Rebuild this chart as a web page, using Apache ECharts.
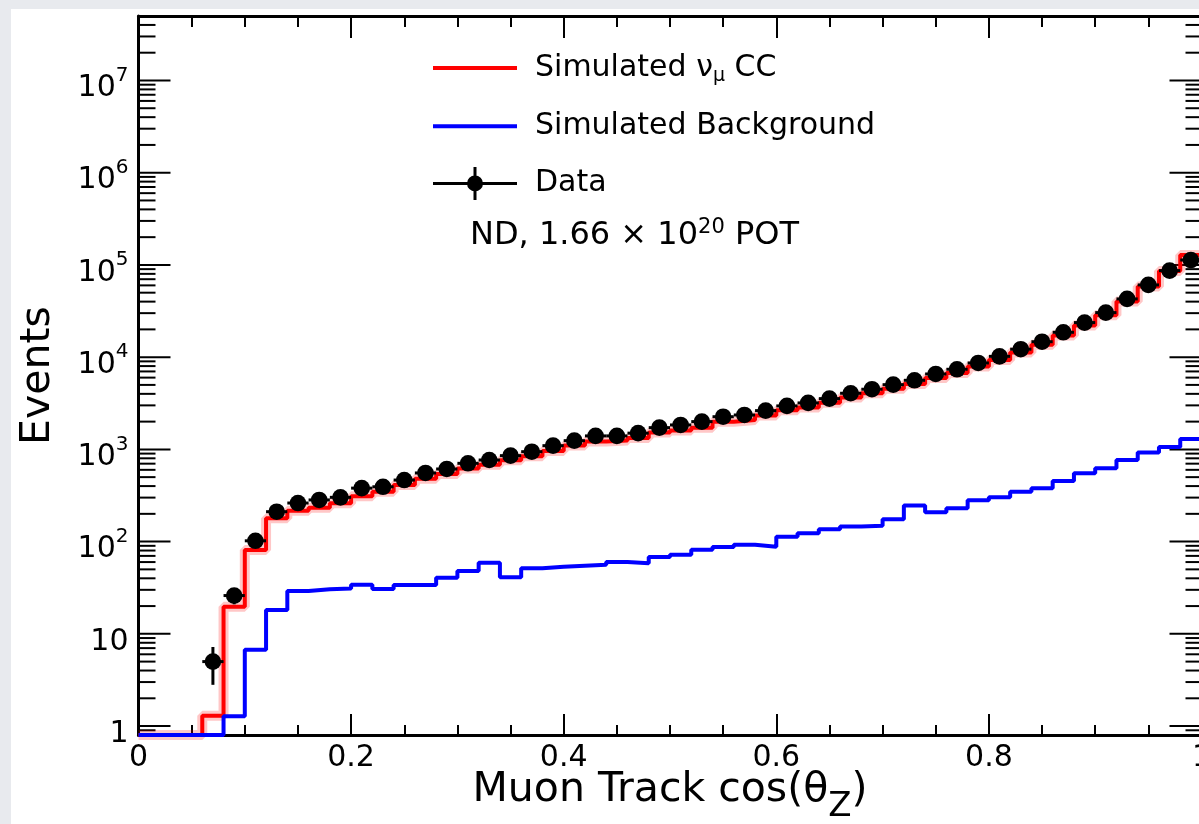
<!DOCTYPE html>
<html>
<head>
<meta charset="utf-8">
<script src="https://cdn.jsdelivr.net/npm/echarts/dist/echarts.min.js"></script>
<style>
  html, body { margin: 0; padding: 0; width: 1199px; height: 824px; background: #e8eaee; overflow: hidden; }
  #chart { position: absolute; left: 11px; top: 9px; width: 1188px; height: 815px; background: #ffffff; }
</style>
</head>
<body>
<div id="chart"></div>
<script>
// ---------------- data ----------------
const binLow = [0,0.02,0.04,0.06,0.08,0.10,0.12,0.14,0.16,0.18,0.20,0.22,0.24,0.26,0.28,0.30,0.32,0.34,0.36,0.38,0.40,0.42,0.44,0.46,0.48,0.50,0.52,0.54,0.56,0.58,0.60,0.62,0.64,0.66,0.68,0.70,0.72,0.74,0.76,0.78,0.80,0.82,0.84,0.86,0.88,0.90,0.92,0.94,0.96,0.98];
const binEnd = 1.0;
const numuCC = [0,0,0,1.29,19.7,81,179,216,233,260,310,348,410,480,540,620,680,760,840,960,1100,1220,1250,1330,1520,1600,1720,1990,2080,2330,2650,2850,3200,3650,4050,4550,5100,5950,6750,7900,9300,11200,13600,17200,22000,28500,40000,58500,86000,128000];
const background = [0,0,0,0,1.28,6.7,18.1,29.1,30.4,31.1,34.1,30.6,33.8,33.8,40.5,48.0,59.0,41.0,51.3,53.5,54.8,56.1,60.1,58.1,68.0,72.1,81.7,87.4,92.6,88.1,113,123,136,146,149,175,246,208,230,280,302,347,378,454,550,624,765,925,1060,1297];
const dataX = [0.07,0.09,0.11,0.13,0.15,0.17,0.19,0.21,0.23,0.25,0.27,0.29,0.31,0.33,0.35,0.37,0.39,0.41,0.43,0.45,0.47,0.49,0.51,0.53,0.55,0.57,0.59,0.61,0.63,0.65,0.67,0.69,0.71,0.73,0.75,0.77,0.79,0.81,0.83,0.85,0.87,0.89,0.91,0.93,0.95,0.97,0.99];
const dataY = [5,26,102,211,262,283,302,380,393,465,555,613,706,767,855,944,1097,1243,1400,1400,1500,1720,1840,2000,2260,2360,2630,2960,3190,3550,4060,4490,5030,5610,6570,7390,8650,10200,12200,14700,18600,23700,30400,42800,60700,86700,113000];
const dataErr = [2.2,5.1,10.1,14.5,16.2,16.8,17.4,19.5,19.8,21.6,23.6,24.8,26.6,27.7,29.2,30.7,33.1,35.3,37.4,37.4,38.7,41.5,42.9,44.7,47.5,48.6,51.3,54.4,56.5,59.6,63.7,67.0,70.9,74.9,81.1,86.0,93.0,101,110,121,136,154,174,207,246,294,336];
const xTickLabels = ['0','0.2','0.4','0.6','0.8','1'];
const yMajorTicks = [1,10,100,1000,10000,100000,1000000,10000000];
const seriesNames = ['Simulated νμ CC','Simulated Background','Data'];

// ---------------- setup ----------------
const FONT = 'DejaVu Sans';
const yMin = 0.8, yMax = 5e7;
const halfBin = 0.01;

function stepData(vals) {
  const pts = binLow.map((x, i) => [x, vals[i] > 0 ? vals[i] : yMin]);
  const last = vals[vals.length - 1];
  pts.push([binEnd, last > 0 ? last : yMin]);
  return pts;
}

// y-axis tick positions (decades + 2..9 sub-ticks), drawn through the axis scale
const yTickData = [];
yMajorTicks.forEach(v => yTickData.push([0, v, 1]));
yTickData.push([0, 0.9, 0]);
for (let k = 0; k <= 7; k++) {
  for (let m = 2; m <= 9; m++) {
    const v = m * Math.pow(10, k);
    if (v < yMax) yTickData.push([0, v, 0]);
  }
}

const chart = echarts.init(document.getElementById('chart'), null, { renderer: 'canvas' });

const lineIcon = 'path://M0,0 L84,0 L84,4 L0,4 Z';
const dataIcon = 'path://M0,15 L84,15 L84,18 L0,18 Z M40.5,0 L43.5,0 L43.5,33 L40.5,33 Z M34,16.5 A8,8 0 1,1 50,16.5 A8,8 0 1,1 34,16.5 Z';

const option = {
  animation: false,
  backgroundColor: '#ffffff',
  grid: { left: 127.5, top: 7, width: 1063, height: 719, containLabel: false, outerBoundsMode: 'none' },
  title: {
    text: 'ND, 1.66 × 10{sup|20} POT',
    left: 459, top: 208, padding: 0,
    textStyle: {
      fontFamily: FONT, fontSize: 32, fontWeight: 'normal', color: '#000', lineHeight: 38,
      rich: { sup: { fontFamily: FONT, fontSize: 21, lineHeight: 14, verticalAlign: 'top', color: '#000' } }
    }
  },
  legend: {
    orient: 'vertical', left: 422, top: 42.5, padding: 0,
    itemWidth: 84, itemHeight: 33, itemGap: 24.2,
    selectedMode: false,
    formatter: function (name) {
      if (name === seriesNames[0]) return 'Simulated ν{sub|μ} CC';
      return name;
    },
    textStyle: {
      fontFamily: FONT, fontSize: 30, color: '#000', lineHeight: 33, padding: [0, 0, 0, 13],
      rich: { sub: { fontFamily: FONT, fontSize: 19, lineHeight: 18, padding: [15, 0, 0, 0], verticalAlign: 'top', color: '#000' } }
    },
    data: [
      { name: seriesNames[0], icon: lineIcon, itemStyle: { color: '#ff0000', borderWidth: 0 } },
      { name: seriesNames[1], icon: lineIcon, itemStyle: { color: '#0000ff', borderWidth: 0 } },
      { name: seriesNames[2], icon: dataIcon, itemStyle: { color: '#000', borderWidth: 0 } }
    ]
  },
  xAxis: [
    {
      type: 'value', min: 0, max: 1, interval: 0.2, position: 'bottom',
      name: '{t|Muon Track cos(θ}{z|Z}{t|)}',
      nameLocation: 'middle', nameGap: 35, nameMoveOverlap: false,
      nameTextStyle: {
        fontFamily: FONT, color: '#000',
        rich: {
          t: { fontFamily: FONT, fontSize: 41, lineHeight: 44, verticalAlign: 'top', color: '#000' },
          z: { fontFamily: FONT, fontSize: 34, lineHeight: 36, padding: [20, 0, 0, 0], verticalAlign: 'top', color: '#000' }
        }
      },
      axisLine: { show: true, onZero: false, lineStyle: { color: '#000', width: 3 } },
      axisTick: { show: true, inside: true, length: 21, lineStyle: { color: '#000', width: 2 } },
      minorTick: { show: true, splitNumber: 4, length: 10, lineStyle: { color: '#000', width: 2 } },
      splitLine: { show: false }, minorSplitLine: { show: false },
      axisLabel: {
        show: true, margin: 8, fontFamily: FONT, fontSize: 30, color: '#000', lineHeight: 30,
        showMinLabel: true, showMaxLabel: true, hideOverlap: false,
        formatter: function (v) { return xTickLabels[Math.round(v / 0.2)]; }
      }
    },
    {
      type: 'value', min: 0, max: 1, interval: 0.2, position: 'top',
      axisLine: { show: true, onZero: false, lineStyle: { color: '#000', width: 3 } },
      axisTick: { show: true, inside: true, length: 22, lineStyle: { color: '#000', width: 2 } },
      minorTick: { show: true, splitNumber: 4, length: 11, lineStyle: { color: '#000', width: 2 } },
      splitLine: { show: false }, axisLabel: { show: false }
    }
  ],
  yAxis: {
    type: 'log', logBase: 10, min: yMin, max: yMax, splitNumber: 8,
    name: 'Events', nameLocation: 'middle', nameRotate: 90, nameGap: 80, nameMoveOverlap: false,
    nameTextStyle: { fontFamily: FONT, fontSize: 41, color: '#000' },
    axisLine: { show: true, onZero: false, lineStyle: { color: '#000', width: 3 } },
    axisTick: { show: false },
    minorTick: { show: false },
    splitLine: { show: false },
    axisLabel: {
      show: true, margin: 10, fontFamily: FONT, fontSize: 30, color: '#000',
      showMinLabel: true, showMaxLabel: true, hideOverlap: false,
      formatter: function (v) {
        const lg = Math.log10(v);
        const n = Math.round(lg);
        if (Math.abs(lg - n) > 1e-6) return '';
        if (n === 0) return '{m|1}';
        if (n === 1) return '{m|10}';
        return '{m|10}{s|' + n + '}';
      },
      rich: {
        m: { fontFamily: FONT, fontSize: 30, lineHeight: 30, padding: [8, 0, 0, 0], verticalAlign: 'top', color: '#000' },
        s: { fontFamily: FONT, fontSize: 20, lineHeight: 24, verticalAlign: 'top', color: '#000' }
      }
    }
  },
  series: [
    {
      name: 'y ticks', type: 'custom', silent: true, z: 1,
      data: yTickData,
      renderItem: function (params, api) {
        const v = api.value(1);
        const major = api.value(2) === 1;
        const pL = api.coord([0, v]);
        const pR = api.coord([1, v]);
        const lenL = major ? 32 : 17;
        const lenR = major ? 32 : 16;
        return {
          type: 'group',
          children: [
            { type: 'line', shape: { x1: pL[0], y1: pL[1], x2: pL[0] + lenL, y2: pL[1] }, style: { stroke: '#000', lineWidth: 2 } },
            { type: 'line', shape: { x1: pR[0] - lenR, y1: pR[1], x2: pR[0], y2: pR[1] }, style: { stroke: '#000', lineWidth: 2 } }
          ]
        };
      }
    },
    {
      name: 'numu band', type: 'line', step: 'end', data: stepData(numuCC),
      symbol: 'none', showSymbol: false, silent: true, z: 2,
      lineStyle: { color: 'rgba(255,0,0,0.22)', width: 10 }
    },
    {
      name: seriesNames[0], type: 'line', step: 'end', data: stepData(numuCC),
      symbol: 'none', showSymbol: false, z: 3,
      itemStyle: { color: '#ff0000' },
      lineStyle: { color: '#ff0000', width: 4 }
    },
    {
      name: seriesNames[1], type: 'line', step: 'end', data: stepData(background),
      symbol: 'none', showSymbol: false, z: 4,
      itemStyle: { color: '#0000ff' },
      lineStyle: { color: '#0000ff', width: 4 }
    },
    {
      name: seriesNames[2], type: 'custom', z: 5,
      itemStyle: { color: '#000' },
      data: dataX.map((x, i) => [x, dataY[i], dataErr[i]]),
      renderItem: function (params, api) {
        const x = api.value(0), y = api.value(1), e = api.value(2);
        const c = api.coord([x, y]);
        const xl = api.coord([x - halfBin, y])[0];
        const xr = api.coord([x + halfBin, y])[0];
        const yt = api.coord([x, y + e])[1];
        const yb = api.coord([x, y - e])[1];
        return {
          type: 'group',
          children: [
            { type: 'line', shape: { x1: xl, y1: c[1], x2: xr, y2: c[1] }, style: { stroke: '#000', lineWidth: 3 } },
            { type: 'line', shape: { x1: c[0], y1: yt, x2: c[0], y2: yb }, style: { stroke: '#000', lineWidth: 3 } },
            { type: 'circle', shape: { cx: c[0], cy: c[1], r: 8.3 }, style: { fill: '#000' } }
          ]
        };
      }
    }
  ]
};
chart.setOption(option);
</script>
</body>
</html>
